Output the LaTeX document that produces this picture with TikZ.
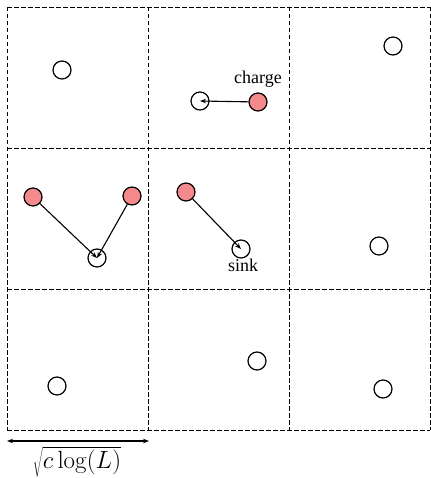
\documentclass[tikz,border=0pt]{standalone}
\usepackage[no-math]{fontspec}
\setmainfont{Liberation Serif}
\usetikzlibrary{arrows.meta,positioning}
\definecolor{salmon}{HTML}{F48A8C}
\tikzset{
  cellline/.style={dashed, line width=0.95pt, dash pattern=on 4.5pt off 2.5pt},
  sinkbox/.style={circle, draw=black, fill=white, line width=1.2pt, minimum size=18pt, inner sep=0pt},
  chargebox/.style={sinkbox, fill=salmon},
  lbl/.style={font=\fontsize{18}{20}\selectfont, inner sep=1pt},
  flow/.style={-{Stealth[length=6pt,width=4.5pt]}, line width=1.1pt},
  span/.style={{Stealth[length=6pt,width=4.5pt]}-{Stealth[length=6pt,width=4.5pt]}, line width=1.1pt},
}
\begin{document}
\begin{tikzpicture}[x=1pt,y=-1pt]
\useasboundingbox (0,0) rectangle (430,478);
% grid of cells
\foreach \i in {7,148,289,430} {
  \draw[cellline] (\i,7) -- (\i,430);
  \draw[cellline] (7,\i) -- (430,\i);
}
% top row
\node[sinkbox] (s1) at (62,70) {};
\node[sinkbox] (s2) at (200,101) {};
\node[chargebox] (q1) at (258,102) {};
\node[lbl, above=4pt of q1] (t1) {charge};
\node[sinkbox] (s3) at (393,46) {};
% middle row
\node[chargebox] (q2) at (33,197) {};
\node[chargebox] (q3) at (132,196) {};
\node[sinkbox] (s4) at (97,258) {};
\node[chargebox] (q4) at (186,192) {};
\node[sinkbox] (s5) at (241,249) {};
\node[lbl, below=-1pt of s5, xshift=2pt] (t2) {sink};
\node[sinkbox] (s6) at (379,246) {};
% bottom row
\node[sinkbox] (s7) at (57,386) {};
\node[sinkbox] (s8) at (257,361) {};
\node[sinkbox] (s9) at (383,389) {};
% charges to sinks
\draw[flow] (q1) -- (s2.center);
\draw[flow] (q2) -- (s4.center);
\draw[flow] (q3) -- (s4.center);
\draw[flow] (q4) -- (s5.center);
% cell width
\coordinate (a1) at (7,441);
\coordinate (a2) at (149,441);
\draw[span] (a1) -- (a2);
\node[font=\fontsize{26}{29}\selectfont] (w) at (77,462) {$\sqrt{c\log(L)}$};
\end{tikzpicture}
\end{document}
